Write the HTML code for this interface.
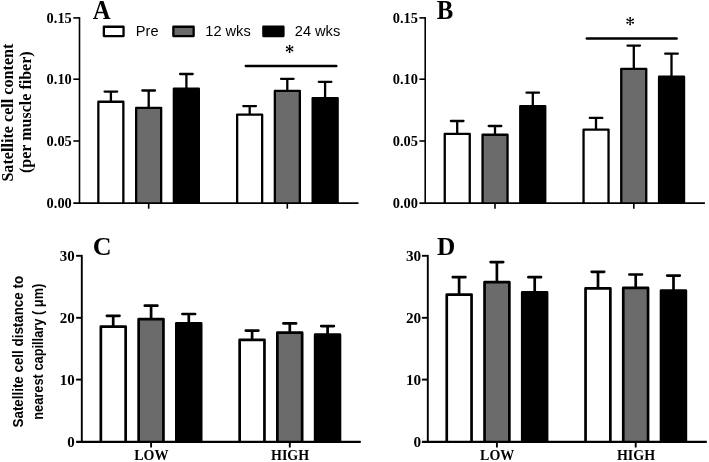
<!DOCTYPE html>
<html><head><meta charset="utf-8"><title>Figure</title>
<style>
html,body{margin:0;padding:0;background:#fff;}
svg{display:block;will-change:transform}
text{fill:#000}
.tk{font-family:"Liberation Serif",serif;font-weight:bold}
.pl{font-family:"Liberation Serif",serif;font-weight:bold}
.st{font-family:"Liberation Serif",serif;font-size:17px}
.lg{font-family:"Liberation Sans",sans-serif;font-size:14.6px}
.ya{font-family:"Liberation Serif",serif;font-weight:bold;font-size:16.5px}
.yc{font-family:"Liberation Sans",sans-serif;font-weight:bold;font-size:14px}
</style></head><body>
<svg width="709" height="462" viewBox="0 0 709 462">
<rect width="709" height="462" fill="#fff"/>
<path d="M110.9 101.6V91.6M104.6 91.6H117.2" stroke="#000" stroke-width="2.3" stroke-linecap="round" fill="none"/>
<path d="M98.35 203.1V101.75H123.35V203.1" fill="#fff" stroke="#000" stroke-width="2.3" stroke-linejoin="round"/>
<path d="M148.7 107.7V90.5M142.3 90.5H155.0" stroke="#000" stroke-width="2.3" stroke-linecap="round" fill="none"/>
<path d="M136.15 203.1V107.85H161.15V203.1" fill="#6b6b6b" stroke="#000" stroke-width="2.3" stroke-linejoin="round"/>
<path d="M186.4 88.5V74.0M180.1 74.0H192.7" stroke="#000" stroke-width="2.3" stroke-linecap="round" fill="none"/>
<path d="M173.85 203.1V88.65H198.85V203.1" fill="#000" stroke="#000" stroke-width="2.3" stroke-linejoin="round"/>
<path d="M249.7 114.4V106.1M243.3 106.1H256.0" stroke="#000" stroke-width="2.3" stroke-linecap="round" fill="none"/>
<path d="M237.15 203.1V114.55H262.15V203.1" fill="#fff" stroke="#000" stroke-width="2.3" stroke-linejoin="round"/>
<path d="M287.3 90.7V78.8M281.0 78.8H293.6" stroke="#000" stroke-width="2.3" stroke-linecap="round" fill="none"/>
<path d="M274.85 203.1V90.85H299.85V203.1" fill="#6b6b6b" stroke="#000" stroke-width="2.3" stroke-linejoin="round"/>
<path d="M325.1 97.9V81.8M318.8 81.8H331.4" stroke="#000" stroke-width="2.3" stroke-linecap="round" fill="none"/>
<path d="M312.65 203.1V98.05H337.65V203.1" fill="#000" stroke="#000" stroke-width="2.3" stroke-linejoin="round"/>
<path d="M79.5 17.1V203.1" stroke="#000" stroke-width="1.6" fill="none"/>
<path d="M73.3 203.1H358.5" stroke="#000" stroke-width="1.9" fill="none"/>
<path d="M73.3 17.9H79.5" stroke="#000" stroke-width="1.6"/>
<text transform="translate(71.8,23.0) scale(1.036,1)" text-anchor="end" class="tk" font-size="13.9">0.15</text>
<path d="M73.3 79.2H79.5" stroke="#000" stroke-width="1.6"/>
<text transform="translate(71.8,84.3) scale(1.036,1)" text-anchor="end" class="tk" font-size="13.9">0.10</text>
<path d="M73.3 141.0H79.5" stroke="#000" stroke-width="1.6"/>
<text transform="translate(71.8,146.1) scale(1.036,1)" text-anchor="end" class="tk" font-size="13.9">0.05</text>
<text transform="translate(71.8,208.2) scale(1.036,1)" text-anchor="end" class="tk" font-size="13.9">0.00</text>
<path d="M148.7 203.1V208.7" stroke="#000" stroke-width="1.6"/>
<path d="M287.3 203.1V208.7" stroke="#000" stroke-width="1.6"/>
<text transform="translate(92.7,18.7) scale(0.935,1)" class="pl" font-size="26.5">A</text>
<path d="M245.8 66.0H336.3" stroke="#000" stroke-width="2.5" stroke-linecap="round"/>
<path d="M289.60 45.60L289.60 52.20M286.74 47.25L292.46 50.55M292.46 47.25L286.74 50.55" stroke="#000" stroke-width="1.05" stroke-linecap="round" fill="none"/><circle cx="289.60" cy="45.60" r="0.9"/><circle cx="289.60" cy="52.20" r="0.9"/><circle cx="286.74" cy="47.25" r="0.9"/><circle cx="292.46" cy="50.55" r="0.9"/><circle cx="292.46" cy="47.25" r="0.9"/><circle cx="286.74" cy="50.55" r="0.9"/>
<path d="M457.2 133.7V121.0M450.9 121.0H463.5" stroke="#000" stroke-width="2.3" stroke-linecap="round" fill="none"/>
<path d="M444.75 203.1V133.85H469.75V203.1" fill="#fff" stroke="#000" stroke-width="2.3" stroke-linejoin="round"/>
<path d="M495.0 134.6V126.0M488.7 126.0H501.3" stroke="#000" stroke-width="2.3" stroke-linecap="round" fill="none"/>
<path d="M482.55 203.1V134.75H507.55V203.1" fill="#6b6b6b" stroke="#000" stroke-width="2.3" stroke-linejoin="round"/>
<path d="M532.8 106.1V92.7M526.5 92.7H539.0" stroke="#000" stroke-width="2.3" stroke-linecap="round" fill="none"/>
<path d="M520.25 203.1V106.25H545.25V203.1" fill="#000" stroke="#000" stroke-width="2.3" stroke-linejoin="round"/>
<path d="M596.0 129.5V117.9M589.8 117.9H602.3" stroke="#000" stroke-width="2.3" stroke-linecap="round" fill="none"/>
<path d="M583.55 203.1V129.65H608.55V203.1" fill="#fff" stroke="#000" stroke-width="2.3" stroke-linejoin="round"/>
<path d="M633.8 68.7V45.6M627.5 45.6H640.0" stroke="#000" stroke-width="2.3" stroke-linecap="round" fill="none"/>
<path d="M621.25 203.1V68.85H646.25V203.1" fill="#6b6b6b" stroke="#000" stroke-width="2.3" stroke-linejoin="round"/>
<path d="M671.5 76.6V53.7M665.2 53.7H677.8" stroke="#000" stroke-width="2.3" stroke-linecap="round" fill="none"/>
<path d="M659.05 203.1V76.75H684.05V203.1" fill="#000" stroke="#000" stroke-width="2.3" stroke-linejoin="round"/>
<path d="M425.2 17.1V203.1" stroke="#000" stroke-width="1.6" fill="none"/>
<path d="M419.4 203.1H704.9" stroke="#000" stroke-width="1.9" fill="none"/>
<path d="M419.4 17.9H425.2" stroke="#000" stroke-width="1.6"/>
<text transform="translate(417.9,23.0) scale(1.036,1)" text-anchor="end" class="tk" font-size="13.9">0.15</text>
<path d="M419.4 79.2H425.2" stroke="#000" stroke-width="1.6"/>
<text transform="translate(417.9,84.3) scale(1.036,1)" text-anchor="end" class="tk" font-size="13.9">0.10</text>
<path d="M419.4 141.0H425.2" stroke="#000" stroke-width="1.6"/>
<text transform="translate(417.9,146.1) scale(1.036,1)" text-anchor="end" class="tk" font-size="13.9">0.05</text>
<text transform="translate(417.9,208.2) scale(1.036,1)" text-anchor="end" class="tk" font-size="13.9">0.00</text>
<path d="M495.0 203.1V208.7" stroke="#000" stroke-width="1.6"/>
<path d="M633.8 203.1V208.7" stroke="#000" stroke-width="1.6"/>
<text transform="translate(436.8,19.0) scale(0.935,1)" class="pl" font-size="26.5">B</text>
<path d="M586.8 38.6H676.6" stroke="#000" stroke-width="2.5" stroke-linecap="round"/>
<path d="M630.15 17.80L630.15 24.40M627.29 19.45L633.01 22.75M633.01 19.45L627.29 22.75" stroke="#000" stroke-width="1.05" stroke-linecap="round" fill="none"/><circle cx="630.15" cy="17.80" r="0.9"/><circle cx="630.15" cy="24.40" r="0.9"/><circle cx="627.29" cy="19.45" r="0.9"/><circle cx="633.01" cy="22.75" r="0.9"/><circle cx="633.01" cy="19.45" r="0.9"/><circle cx="627.29" cy="22.75" r="0.9"/>
<path d="M113.2 326.3V315.8M106.9 315.8H119.5" stroke="#000" stroke-width="2.7" stroke-linecap="round" fill="none"/>
<path d="M100.85 441.9V326.65H125.65V441.9" fill="#fff" stroke="#000" stroke-width="2.7" stroke-linejoin="round"/>
<path d="M151.1 318.8V305.7M144.8 305.7H157.4" stroke="#000" stroke-width="2.7" stroke-linecap="round" fill="none"/>
<path d="M138.65 441.9V319.15H163.45V441.9" fill="#6b6b6b" stroke="#000" stroke-width="2.7" stroke-linejoin="round"/>
<path d="M188.8 322.9V314.0M182.4 314.0H195.1" stroke="#000" stroke-width="2.7" stroke-linecap="round" fill="none"/>
<path d="M176.35 441.9V323.25H201.15V441.9" fill="#000" stroke="#000" stroke-width="2.7" stroke-linejoin="round"/>
<path d="M252.1 339.5V330.6M245.8 330.6H258.4" stroke="#000" stroke-width="2.7" stroke-linecap="round" fill="none"/>
<path d="M239.65 441.9V339.85H264.45V441.9" fill="#fff" stroke="#000" stroke-width="2.7" stroke-linejoin="round"/>
<path d="M289.8 332.3V323.4M283.4 323.4H296.1" stroke="#000" stroke-width="2.7" stroke-linecap="round" fill="none"/>
<path d="M277.35 441.9V332.65H302.15V441.9" fill="#6b6b6b" stroke="#000" stroke-width="2.7" stroke-linejoin="round"/>
<path d="M327.6 334.3V326.1M321.2 326.1H333.9" stroke="#000" stroke-width="2.7" stroke-linecap="round" fill="none"/>
<path d="M315.15 441.9V334.65H339.95V441.9" fill="#000" stroke="#000" stroke-width="2.7" stroke-linejoin="round"/>
<path d="M81.8 254.9V441.9" stroke="#000" stroke-width="1.9" fill="none"/>
<path d="M76.1 441.9H360.8" stroke="#000" stroke-width="2.3" fill="none"/>
<path d="M76.1 255.8H81.8" stroke="#000" stroke-width="1.9"/>
<text transform="translate(74.8,261.2) scale(1.04,1)" text-anchor="end" class="tk" font-size="14.4">30</text>
<path d="M76.1 317.8H81.8" stroke="#000" stroke-width="1.9"/>
<text transform="translate(74.8,323.2) scale(1.04,1)" text-anchor="end" class="tk" font-size="14.4">20</text>
<path d="M76.1 379.6H81.8" stroke="#000" stroke-width="1.9"/>
<text transform="translate(74.8,385.0) scale(1.04,1)" text-anchor="end" class="tk" font-size="14.4">10</text>
<text transform="translate(74.8,447.3) scale(1.04,1)" text-anchor="end" class="tk" font-size="14.4">0</text>
<path d="M151.1 441.9V447.5" stroke="#000" stroke-width="1.9"/>
<text x="151.4" y="460.3" text-anchor="middle" class="tk" font-size="14">LOW</text>
<path d="M289.8 441.9V447.5" stroke="#000" stroke-width="1.9"/>
<text x="290.1" y="460.3" text-anchor="middle" class="tk" font-size="14">HIGH</text>
<text transform="translate(92.8,255.1) scale(1.03,1)" class="pl" font-size="25.3">C</text>
<path d="M459.1 294.2V277.2M452.8 277.2H465.4" stroke="#000" stroke-width="2.7" stroke-linecap="round" fill="none"/>
<path d="M446.75 441.9V294.55H471.55V441.9" fill="#fff" stroke="#000" stroke-width="2.7" stroke-linejoin="round"/>
<path d="M496.9 281.8V262.1M490.6 262.1H503.2" stroke="#000" stroke-width="2.7" stroke-linecap="round" fill="none"/>
<path d="M484.55 441.9V282.15H509.35V441.9" fill="#6b6b6b" stroke="#000" stroke-width="2.7" stroke-linejoin="round"/>
<path d="M534.7 292.0V277.2M528.4 277.2H541.0" stroke="#000" stroke-width="2.7" stroke-linecap="round" fill="none"/>
<path d="M522.25 441.9V292.35H547.05V441.9" fill="#000" stroke="#000" stroke-width="2.7" stroke-linejoin="round"/>
<path d="M598.0 288.0V271.8M591.7 271.8H604.2" stroke="#000" stroke-width="2.7" stroke-linecap="round" fill="none"/>
<path d="M585.55 441.9V288.35H610.35V441.9" fill="#fff" stroke="#000" stroke-width="2.7" stroke-linejoin="round"/>
<path d="M635.7 287.6V274.5M629.4 274.5H642.0" stroke="#000" stroke-width="2.7" stroke-linecap="round" fill="none"/>
<path d="M623.25 441.9V287.95H648.05V441.9" fill="#6b6b6b" stroke="#000" stroke-width="2.7" stroke-linejoin="round"/>
<path d="M673.5 290.2V275.6M667.2 275.6H679.8" stroke="#000" stroke-width="2.7" stroke-linecap="round" fill="none"/>
<path d="M661.05 441.9V290.55H685.85V441.9" fill="#000" stroke="#000" stroke-width="2.7" stroke-linejoin="round"/>
<path d="M427.8 254.9V441.9" stroke="#000" stroke-width="1.9" fill="none"/>
<path d="M421.9 441.9H706.8" stroke="#000" stroke-width="2.3" fill="none"/>
<path d="M421.9 255.8H427.8" stroke="#000" stroke-width="1.9"/>
<text transform="translate(421.2,261.2) scale(1.06,1)" text-anchor="end" class="tk" font-size="14.4">30</text>
<path d="M421.9 317.8H427.8" stroke="#000" stroke-width="1.9"/>
<text transform="translate(421.2,323.2) scale(1.06,1)" text-anchor="end" class="tk" font-size="14.4">20</text>
<path d="M421.9 379.6H427.8" stroke="#000" stroke-width="1.9"/>
<text transform="translate(421.2,385.0) scale(1.06,1)" text-anchor="end" class="tk" font-size="14.4">10</text>
<text transform="translate(421.2,447.3) scale(1.06,1)" text-anchor="end" class="tk" font-size="14.4">0</text>
<path d="M496.9 441.9V447.5" stroke="#000" stroke-width="1.9"/>
<text x="497.2" y="460.3" text-anchor="middle" class="tk" font-size="14">LOW</text>
<path d="M635.7 441.9V447.5" stroke="#000" stroke-width="1.9"/>
<text x="636.0" y="460.3" text-anchor="middle" class="tk" font-size="14">HIGH</text>
<text transform="translate(437.0,255.2) scale(1.0,1)" class="pl" font-size="25.3">D</text>

<rect x="103.85" y="26.75" width="19.7" height="9.3" fill="#fff" stroke="#000" stroke-width="2.3" stroke-linejoin="round"/>
<text x="135.8" y="35.7" class="lg">Pre</text>
<rect x="173.35" y="26.75" width="20.3" height="9.3" fill="#6b6b6b" stroke="#000" stroke-width="2.3" stroke-linejoin="round"/>
<text x="205.3" y="35.7" class="lg">12 wks</text>
<rect x="263.35" y="26.75" width="20.1" height="9.3" fill="#000" stroke="#000" stroke-width="2.3" stroke-linejoin="round"/>
<text x="294.8" y="35.7" class="lg">24 wks</text>


<text transform="translate(12.6,112.6) rotate(-90)" text-anchor="middle" class="ya" textLength="138" lengthAdjust="spacingAndGlyphs">Satellite cell content</text>
<text transform="translate(31.3,112.2) rotate(-90)" text-anchor="middle" class="ya" textLength="121.8" lengthAdjust="spacingAndGlyphs">(per muscle fiber)</text>
<text transform="translate(22.5,351.7) rotate(-90)" text-anchor="middle" class="yc" textLength="151.5" lengthAdjust="spacingAndGlyphs">Satellite cell distance to</text>
<text transform="translate(42.6,351.7) rotate(-90)" text-anchor="middle" class="yc" textLength="136" lengthAdjust="spacingAndGlyphs">nearest capillary ( μm)</text>

</svg>
</body></html>
